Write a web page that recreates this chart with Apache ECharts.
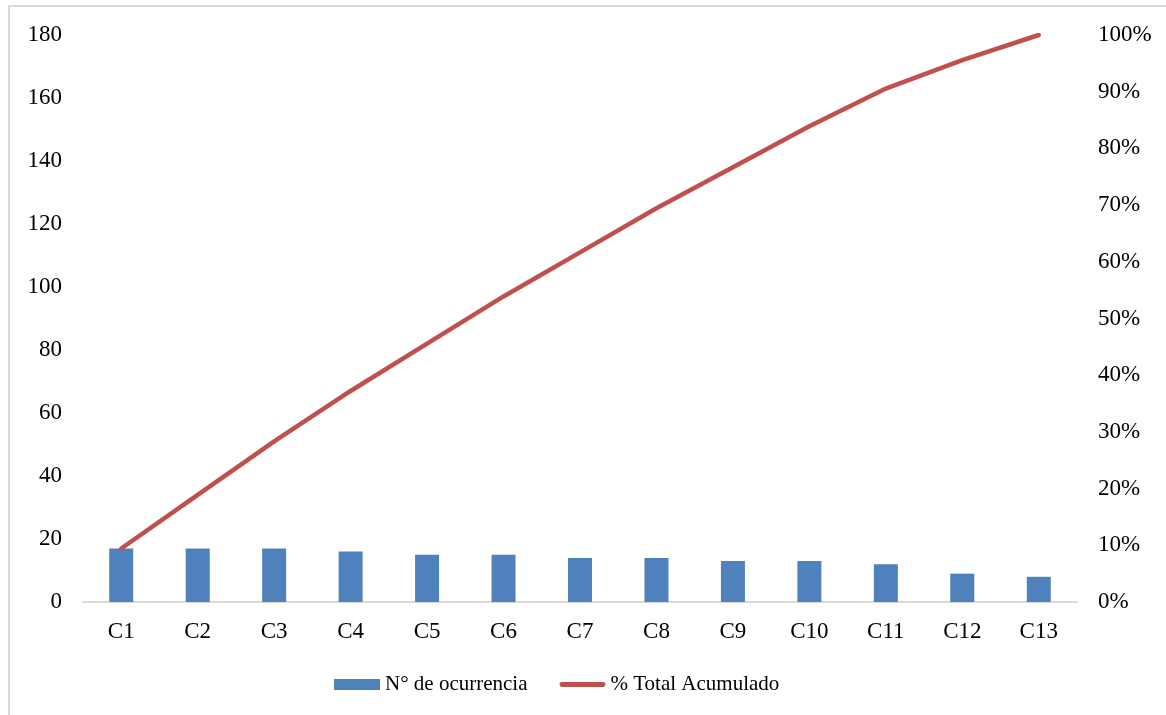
<!DOCTYPE html>
<html>
<head>
<meta charset="utf-8">
<script src="https://cdn.jsdelivr.net/npm/echarts@6/dist/echarts.min.js"></script>
<style>
html,body{margin:0;padding:0;background:#fff}
#frame{position:absolute;left:8px;top:5px;width:1170px;height:720px;border-left:2px solid #d9d9d9;border-top:2px solid #d9d9d9}
#main{position:absolute;left:0;top:0;width:1166px;height:715px}
</style>
</head>
<body>
<div id="frame"></div>
<div id="main"></div>
<script>
// categorias y datos de Pareto
let categories=["C1","C2","C3","C4","C5","C6","C7","C8","C9","C10","C11","C12","C13"]
let ocurrencias=[17,17,17,16,15,15,14,14,13,13,12,9,8]
let acumulado=[0.0944,0.1889,0.2833,0.3722,0.4556,0.5389,0.6167,0.6944,0.7667,0.8389,0.9056,0.9556,1.0]

let font='"Liberation Serif", "Times New Roman", serif'
let chart=echarts.init(document.getElementById('main'))
chart.setOption({
    animation:false,
    textStyle:{fontFamily:font},
    grid:{left:83,right:89,top:35,bottom:113},
    legend:{
        top:669,
        left:329,
        itemGap:32,
        itemWidth:46,
        itemHeight:11,
        textStyle:{fontFamily:font,fontSize:21,color:'#000'},
        data:[
            {name:'N° de ocurrencia',icon:'rect'},
            {name:'% Total Acumulado',icon:'path://M2,0 L44,0 A2.5,2.5 0 0 1 44,5 L2,5 A2.5,2.5 0 0 1 2,0 Z'}
        ]
    },
    xAxis:{
        type:'category',
        data:categories,
        axisLine:{lineStyle:{color:'#d9d9d9',width:2}},
        axisTick:{show:false},
        axisLabel:{fontFamily:font,fontSize:23,color:'#000',margin:18}
    },
    yAxis:[
        {
            type:'value',min:0,max:180,interval:20,
            splitLine:{show:false},
            axisLabel:{fontFamily:font,fontSize:23,color:'#000',margin:21}
        },
        {
            type:'value',min:0,max:1,interval:0.1,
            splitLine:{show:false},
            axisLabel:{fontFamily:font,fontSize:23,color:'#000',margin:21,
                formatter:function(v){return Math.round(v*100)+'%'}}
        }
    ],
    series:[
        {
            name:'N° de ocurrencia',
            type:'bar',
            data:ocurrencias,
            barWidth:24,
            itemStyle:{color:'#4f81bd'}
        },
        {
            name:'% Total Acumulado',
            type:'line',
            yAxisIndex:1,
            data:acumulado,
            symbol:'none',
            lineStyle:{color:'#c0504d',width:4.5,cap:'round',join:'round'},
            itemStyle:{color:'#c0504d'}
        }
    ]
})
</script>
</body>
</html>
